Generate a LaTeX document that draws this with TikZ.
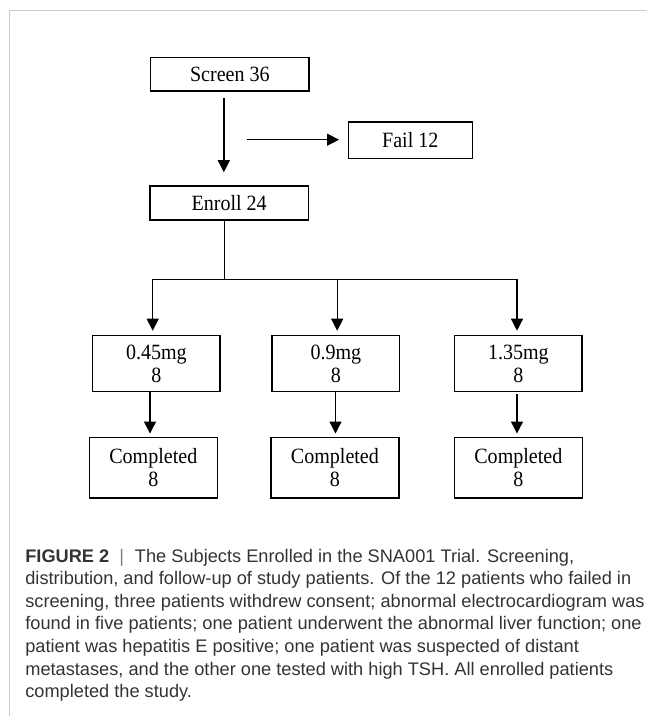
\documentclass[tikz,border=0pt]{standalone}
\usepackage{fontspec}
\setmainfont{Liberation Serif}
\newfontfamily\boxfont[FakeStretch=0.92]{Liberation Serif}
\newfontfamily\capfont{Liberation Sans}
\usetikzlibrary{arrows.meta}

\begin{document}
\begin{tikzpicture}
        [box/.style={rectangle, draw, line width=0.9pt, inner sep=0pt, align=center, font=\boxfont\fontsize{12.4}{12.9}\selectfont},
        doseBox/.style={box, minimum width=2.55cm, minimum height=1.12cm},
        doneBox/.style={box, minimum width=2.56cm, minimum height=1.206cm},
        arr/.style={line width=0.75pt, -{Triangle[length=0.24cm, width=0.24cm]}}]
        \useasboundingbox (0,0) rectangle (12.94,-14.32);
        \draw[gray!40, line width=0.85pt] (12.94,-0.214) -- (0.19,-0.214) -- (0.19,-14.32);

        \node[box, minimum width=3.166cm, minimum height=0.674cm] (Screen) at (4.597,-1.483) {Screen 36};
        \node[box, minimum width=2.48cm, minimum height=0.734cm] (Fail) at (8.206,-2.807) {Fail 12};
        \node[box, minimum width=3.166cm, minimum height=0.68cm] (Enroll) at (4.583,-4.06) {Enroll 24};
        \node[doseBox] (DoseA) at (3.127,-7.274) {0.45mg\\8};
        \node[doseBox] (DoseB) at (6.717,-7.274) {0.9mg\\8};
        \node[doseBox] (DoseC) at (10.367,-7.274) {1.35mg\\8};
        \node[doneBox] (DoneA) at (3.066,-9.357) {Completed\\8};
        \node[doneBox] (DoneB) at (6.698,-9.357) {Completed\\8};
        \node[doneBox] (DoneC) at (10.367,-9.357) {Completed\\8};
        \coordinate (failstart) at (4.934,-2.794);
        \coordinate (split) at (4.486,-5.586);

        \draw[arr, shorten <=0.134cm, shorten >=0.26cm] ([xshift=-0.12cm]Screen.south) -- ([xshift=-0.12cm]Screen.south |- Enroll.north);
        \draw[arr, shorten >=0.17cm] (failstart) -- (failstart -| Fail.west);
        \draw[line width=0.75pt] (Enroll.south -| split) -- (split);
        \draw[arr, shorten >=0.084cm] (split) -| ([xshift=-0.073cm]DoseA.north);
        \draw[arr, shorten >=0.084cm] (split) -| ([xshift=0.027cm]DoseB.north);
        \draw[arr, shorten >=0.084cm] (split) -| ([xshift=-0.027cm]DoseC.north);
        \draw[arr, shorten >=0.068cm] ([xshift=-0.127cm]DoseA.south) -- ([xshift=-0.127cm]DoseA.south |- DoneA.north);
        \draw[arr, shorten >=0.068cm] ([xshift=-0.007cm]DoseB.south) -- ([xshift=-0.007cm]DoseB.south |- DoneB.north);
        \draw[arr, shorten <=0.04cm, shorten >=0.068cm] ([xshift=-0.027cm]DoseC.south) -- ([xshift=-0.027cm]DoseC.south |- DoneC.north);

        \node[anchor=north west, inner sep=0pt, align=left, text=black!80, font=\capfont\fontsize{10.36}{12.86}\selectfont] (Caption) at (0.5,-10.97)
        {\textbf{FIGURE 2}\hspace{0.55em}{\color{black!50}|}\hspace{0.6em}The Subjects Enrolled in the SNA001 Trial. Screening,\\
        distribution, and follow-up of study patients. Of the 12 patients who failed in\\
        screening, three patients withdrew consent; abnormal electrocardiogram was\\
        found in five patients; one patient underwent the abnormal liver function; one\\
        patient was hepatitis E positive; one patient was suspected of distant\\
        metastases, and the other one tested with high TSH. All enrolled patients\\
        completed the study.};
\end{tikzpicture}
\end{document}
